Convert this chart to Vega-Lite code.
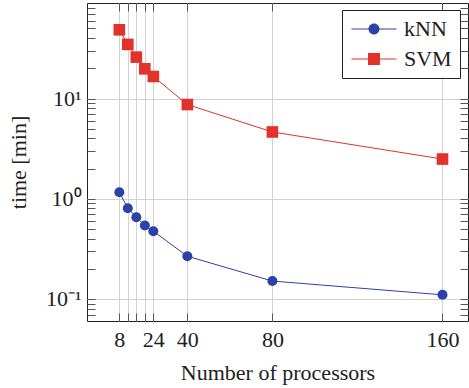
{
  "$schema": "https://vega.github.io/schema/vega-lite/v6.json",
  "width": 381,
  "height": 318,
  "autosize": {"type": "none"},
  "padding": {"left": 87, "top": 3, "right": 1, "bottom": 67},
  "config": {
    "font": "Liberation Serif",
    "view": {"stroke": "#222", "strokeWidth": 1},
    "axis": {
      "labelFont": "Liberation Serif",
      "titleFont": "Liberation Serif",
      "labelFontSize": 22,
      "titleFontSize": 22,
      "titleFontWeight": "normal",
      "labelColor": "#222",
      "titleColor": "#222",
      "tickColor": "#555",
      "tickWidth": 1,
      "gridColor": "#d2d2d2",
      "gridWidth": 1,
      "domain": false
    }
  },
  "data": {
    "values": [
      {"procs": 8, "time": 1.16, "method": "kNN"},
      {"procs": 12, "time": 0.805, "method": "kNN"},
      {"procs": 16, "time": 0.655, "method": "kNN"},
      {"procs": 20, "time": 0.541, "method": "kNN"},
      {"procs": 24, "time": 0.474, "method": "kNN"},
      {"procs": 40, "time": 0.267, "method": "kNN"},
      {"procs": 80, "time": 0.151, "method": "kNN"},
      {"procs": 160, "time": 0.11, "method": "kNN"},
      {"procs": 8, "time": 48.5, "method": "SVM"},
      {"procs": 12, "time": 34.7, "method": "SVM"},
      {"procs": 16, "time": 25.9, "method": "SVM"},
      {"procs": 20, "time": 19.8, "method": "SVM"},
      {"procs": 24, "time": 16.6, "method": "SVM"},
      {"procs": 40, "time": 8.71, "method": "SVM"},
      {"procs": 80, "time": 4.64, "method": "SVM"},
      {"procs": 160, "time": 2.49, "method": "SVM"}
    ]
  },
  "encoding": {
    "color": {
      "field": "method", "type": "nominal",
      "scale": {"domain": ["kNN", "SVM"], "range": ["#2c42a8", "#e1332b"]},
      "legend": {
        "title": null,
        "orient": "none",
        "legendX": 255,
        "legendY": 7,
        "strokeColor": "#222",
        "fillColor": "white",
        "padding": 8,
        "labelFont": "Liberation Serif",
        "labelFontSize": 22,
        "labelColor": "#222",
        "labelAlign": "left",
        "symbolSize": 400,
        "symbolOpacity": 1,
        "symbolStrokeWidth": 0,
        "symbolOffset": 13,
        "labelOffset": 19,
        "rowPadding": 8,
        "labelExpr": "datum.label + '\u2002'"
      }
    }
  },
  "layer": [
    {
      "mark": {"type": "line", "strokeWidth": 1},
      "encoding": {
        "x": {
          "field": "procs", "type": "quantitative",
          "scale": {"domain": [-7.2, 172], "nice": false, "zero": false},
          "axis": {
            "orient": "bottom",
            "title": "Number of processors",
            "titleFont": "Liberation Serif",
            "labelFont": "Liberation Serif",
            "values": [8, 12, 16, 20, 24, 40, 80, 160],
            "labelExpr": "indexof([8, 24, 40, 80, 160], datum.value) >= 0 ? datum.label : ''",
            "grid": true,
            "offset": -8,
            "tickSize": 8,
            "labelPadding": 8,
            "titlePadding": 12
          }
        },
        "y": {
          "field": "time", "type": "quantitative",
          "scale": {"type": "log", "domain": [0.0603, 89.8], "nice": false},
          "axis": {
            "orient": "left",
            "title": "time [min]",
            "titleFont": "Liberation Serif",
            "labelFont": "Liberation Serif",
            "values": [0.07, 0.08, 0.09, 0.1, 0.2, 0.3, 0.4, 0.5, 0.6, 0.7, 0.8, 0.9, 1, 2, 3, 4, 5, 6, 7, 8, 9, 10, 20, 30, 40, 50, 60, 70, 80],
            "labelExpr": "datum.value == 0.1 ? '10⁻¹' : datum.value == 1 ? '10⁰' : datum.value == 10 ? '10¹' : ''",
            "grid": true,
            "gridOpacity": {"condition": {"test": "datum.value == 0.1 || datum.value == 1 || datum.value == 10", "value": 1}, "value": 0},
            "offset": -8,
            "tickSize": 8,
            "labelPadding": 6,
            "titlePadding": 15
          }
        }
      }
    },
    {
      "transform": [{"filter": "datum.method === 'kNN'"}],
      "mark": {"type": "point", "filled": true, "opacity": 1, "shape": "circle", "size": 100},
      "encoding": {
        "x": {
          "field": "procs", "type": "quantitative",
          "scale": {"domain": [-7.2, 172], "nice": false, "zero": false},
          "axis": {
            "orient": "top",
            "title": null,
            "values": [8, 12, 16, 20, 24, 40, 80, 160],
            "labels": false,
            "grid": false,
            "offset": -8,
            "tickSize": 8
          }
        },
        "y": {
          "field": "time", "type": "quantitative",
          "scale": {"type": "log", "domain": [0.0603, 89.8], "nice": false},
          "axis": {
            "orient": "right",
            "title": null,
            "values": [0.07, 0.08, 0.09, 0.1, 0.2, 0.3, 0.4, 0.5, 0.6, 0.7, 0.8, 0.9, 1, 2, 3, 4, 5, 6, 7, 8, 9, 10, 20, 30, 40, 50, 60, 70, 80],
            "labels": false,
            "grid": false,
            "offset": -8,
            "tickSize": 8
          }
        }
      }
    },
    {
      "transform": [{"filter": "datum.method === 'SVM'"}],
      "mark": {"type": "point", "filled": true, "opacity": 1, "shape": "square", "size": 135},
      "encoding": {
        "x": {"field": "procs", "type": "quantitative", "axis": null},
        "y": {"field": "time", "type": "quantitative", "axis": null}
      }
    },
    {
      "mark": {"type": "point", "filled": true, "opacity": 0, "size": 400},
      "encoding": {
        "x": {"field": "procs", "type": "quantitative", "axis": null},
        "y": {"field": "time", "type": "quantitative", "axis": null},
        "shape": {
          "field": "method", "type": "nominal",
          "scale": {"domain": ["kNN", "SVM"], "range": [
            "M-2.25,-0.05H-0.5V0.05H-2.25Z M0.5,-0.05H2.25V0.05H0.5Z M0.55,0A0.55,0.55 0 1 1 -0.55,0A0.55,0.55 0 1 1 0.55,0Z",
            "M-2.25,-0.05H-0.5V0.05H-2.25Z M0.5,-0.05H2.25V0.05H0.5Z M-0.6,-0.6H0.6V0.6H-0.6Z"
          ]},
          "legend": {
            "title": null,
            "orient": "none",
            "legendX": 255,
            "legendY": 7,
            "strokeColor": "#222",
            "fillColor": "white",
            "padding": 8,
            "labelFont": "Liberation Serif",
            "labelFontSize": 22,
            "labelColor": "#222",
            "labelAlign": "left",
            "symbolSize": 400,
            "symbolOpacity": 1,
            "symbolStrokeWidth": 0,
            "symbolOffset": 13,
            "labelOffset": 19,
            "rowPadding": 8,
            "labelExpr": "datum.label + '\u2002'"
          }
        }
      }
    }
  ],
  "resolve": {
    "axis": {"x": "independent", "y": "independent"}
  }
}
